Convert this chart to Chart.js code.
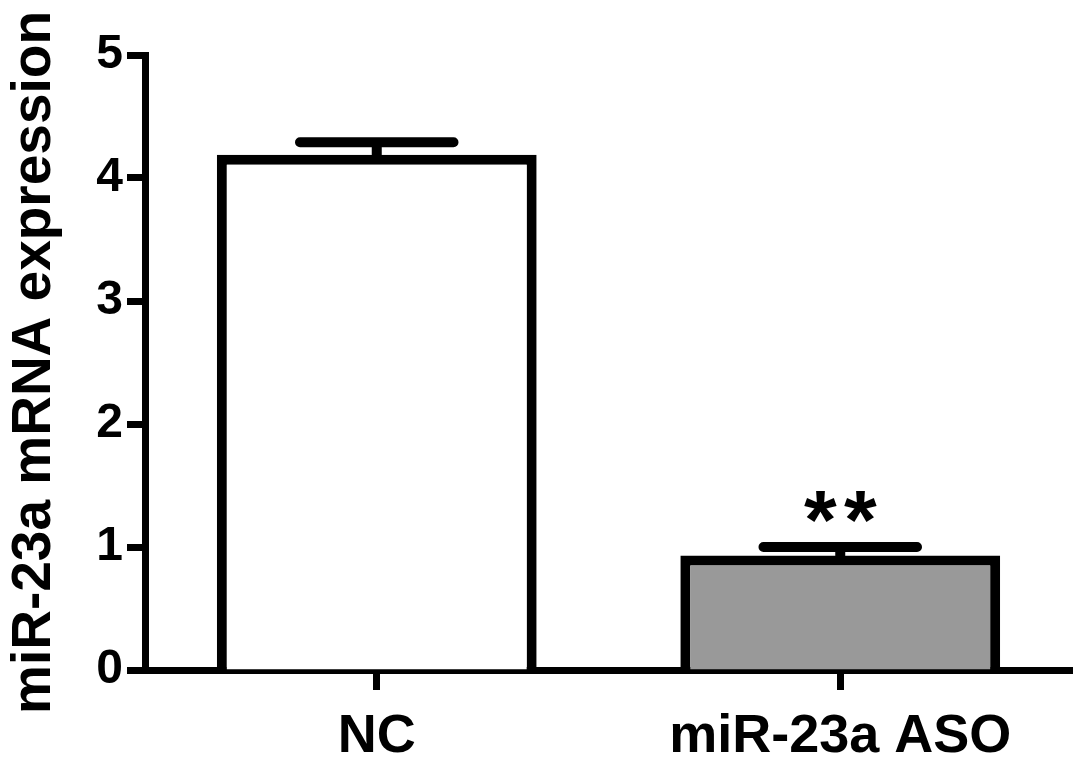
<!DOCTYPE html>
<html>
<head>
<meta charset="utf-8">
<script src="https://cdn.jsdelivr.net/npm/chart.js@4.4.1/dist/chart.umd.min.js"></script>
<style>
  html, body { margin: 0; padding: 0; background: #fff; }
  #wrap { width: 1087px; height: 767px; }
</style>
</head>
<body>
<div id="wrap"><canvas id="grafExp" width="1087" height="767"></canvas></div>
<script>
const groups = ['NC', 'miR-23a ASO'];
const means = [4.19, 0.93];
const errors = [0.10, 0.07];
const marks = ['', '**'];
const yTicks = [0, 1, 2, 3, 4, 5];

var black = '#000000'
var grey = '#999999'
var font = '"Liberation Sans", Arial, sans-serif'

// error bars + significance stars, drawn on top of the bars
const errBars = {
  id: 'errBars',
  afterDatasetsDraw(chart) {
    const c = chart.ctx;
    const y = chart.scales.y;
    const meta = chart.getDatasetMeta(0);
    meta.data.forEach((bar, i) => {
      const top = y.getPixelForValue(means[i] + errors[i]);
      const half = bar.width * 0.24;
      c.save();
      c.strokeStyle = black;
      c.lineCap = 'round';
      c.lineWidth = 10;
      c.beginPath();
      c.moveTo(bar.x, bar.y);
      c.lineTo(bar.x, top);
      c.moveTo(bar.x - half, top);
      c.lineTo(bar.x + half, top);
      c.stroke();
      if (marks[i]) {
        c.fillStyle = black;
        c.font = 'bold 84px ' + font;
        c.textAlign = 'center';
        c.textBaseline = 'alphabetic';
        const n = marks[i].length;
        for (let k = 0; k < n; k++) {
          c.fillText('*', bar.x + (k - (n - 1) / 2) * 40, top + 2);
        }
      }
      c.restore();
    });
  }
};

new Chart(document.getElementById('grafExp'), {
  type: 'bar',
  data: {
    labels: groups,
    datasets: [{
      data: means,
      backgroundColor: ['#ffffff', grey],
      borderColor: black,
      borderWidth: 10,
      borderSkipped: 'start',
      categoryPercentage: 1,
      barPercentage: 0.69
    }]
  },
  options: {
    responsive: false,
    animation: false,
    layout: { padding: { top: 55, right: 15, left: 0, bottom: 0 } },
    plugins: {
      legend: { display: false },
      tooltip: { enabled: false }
    },
    scales: {
      x: {
        afterFit: s => { s.height = 97; },
        grid: {
          offset: false,
          drawOnChartArea: false,
          tickLength: 20,
          tickWidth: 7,
          color: black
        },
        border: { display: true, color: black, width: 7 },
        ticks: {
          color: black,
          padding: 15,
          font: { family: font, size: 54, weight: 'bold' }
        }
      },
      y: {
        min: 0,
        max: 5,
        afterFit: s => { s.width = 145; },
        afterBuildTicks: s => { s.ticks = yTicks.map(v => ({ value: v })); },
        grid: {
          drawOnChartArea: false,
          tickLength: 18,
          tickWidth: 7,
          color: black
        },
        border: { display: true, color: black, width: 7 },
        ticks: {
          color: black,
          padding: 4,
          font: { family: font, size: 48, weight: 'bold' }
        },
        title: {
          display: true,
          text: 'miR-23a mRNA expression',
          color: black,
          padding: { top: 2, bottom: 4 },
          font: { family: font, size: 55, weight: 'bold' }
        }
      }
    }
  },
  plugins: [errBars]
});
</script>
</body>
</html>
